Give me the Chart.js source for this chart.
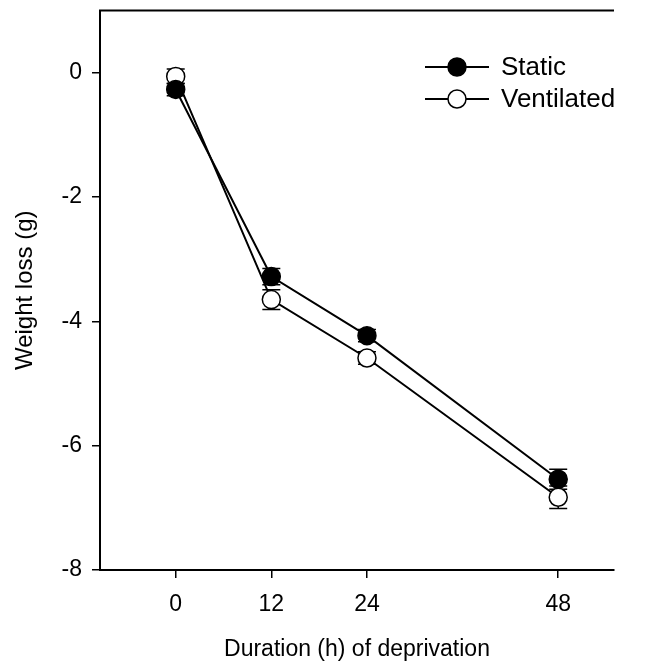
<!DOCTYPE html>
<html>
<head>
<meta charset="utf-8">
<script src="https://cdn.jsdelivr.net/npm/chart.js@4"></script>
<style>
  html, body { margin: 0; padding: 0; background: #fff; }
  #wrap { width: 652px; height: 663px; }
</style>
</head>
<body>
<div id="wrap"><canvas id="myChart" width="652" height="663"></canvas></div>
<script>
// hours of deprivation
var hours = [0, 12, 24, 48];
var xTicks = [0, 12, 24, 48];
var yTicks = [-8, -6, -4, -2, 0];

var staticMean = [-0.27, -3.28, -4.23, -6.54];
var staticErr = [0.10, 0.13, 0.10, 0.16];
var ventMean = [-0.06, -3.65, -4.59, -6.83];
var ventErr = [0.12, 0.16, 0.10, 0.18];

var seriesNames = ['Static', 'Ventilated'];
var FONT = 'Liberation Sans, Arial, sans-serif';

function pts(xs, ys) {
    return xs.map(function(x, i){ return {x: x, y: ys[i]}; });
}

// error bars + top frame line + legend
var extras = {
    id: 'extras',
    beforeDatasetsDraw: function(chart) {
        var ctx = chart.ctx;
        var xs = chart.scales.x, ys = chart.scales.y;
        var errs = [staticErr, ventErr];
        var means = [staticMean, ventMean];
        ctx.save();
        ctx.strokeStyle = '#000';
        ctx.lineWidth = 1.5;
        for (var d = 0; d < 2; d++) {
            for (var i = 0; i < hours.length; i++) {
                var px = xs.getPixelForValue(hours[i]);
                var top = ys.getPixelForValue(means[d][i] + errs[d][i]);
                var bot = ys.getPixelForValue(means[d][i] - errs[d][i]);
                ctx.beginPath();
                ctx.moveTo(px, top); ctx.lineTo(px, bot);
                ctx.moveTo(px - 9, top); ctx.lineTo(px + 9, top);
                ctx.moveTo(px - 9, bot); ctx.lineTo(px + 9, bot);
                ctx.stroke();
            }
        }
        ctx.restore();
    },
    afterDraw: function(chart) {
        var ctx = chart.ctx;
        var a = chart.chartArea;
        ctx.save();
        ctx.strokeStyle = '#000';
        ctx.lineWidth = 2;
        ctx.beginPath();
        ctx.moveTo(a.left - 1, a.top);
        ctx.lineTo(a.right, a.top);
        ctx.stroke();

        // legend
        var rows = [67, 99];
        var fills = ['#000', '#fff'];
        ctx.font = '26px ' + FONT;
        ctx.textBaseline = 'middle';
        ctx.fillStyle = '#000';
        for (var r = 0; r < 2; r++) {
            var y = rows[r];
            ctx.lineWidth = 2;
            ctx.beginPath();
            ctx.moveTo(425, y); ctx.lineTo(489, y);
            ctx.stroke();
            ctx.beginPath();
            ctx.arc(457, y, 9, 0, Math.PI * 2);
            ctx.fillStyle = fills[r];
            ctx.fill();
            ctx.lineWidth = 1.5;
            ctx.stroke();
            ctx.fillStyle = '#000';
            ctx.fillText(seriesNames[r], 501, y + 1);
        }
        ctx.restore();
    }
};

var dataObj = {
    type: 'line',
    data: {
        datasets: [{
            label: seriesNames[0],
            data: pts(hours, staticMean),
            borderColor: '#000',
            borderWidth: 2,
            pointRadius: 9,
            pointBackgroundColor: '#000',
            pointBorderColor: '#000',
            pointBorderWidth: 1.5
        }, {
            label: seriesNames[1],
            data: pts(hours, ventMean),
            borderColor: '#000',
            borderWidth: 2,
            pointRadius: 9,
            pointBackgroundColor: '#fff',
            pointBorderColor: '#000',
            pointBorderWidth: 1.5
        }]
    },
    options: {
        responsive: false,
        animation: false,
        layout: { padding: { top: 6, right: 38, left: 0, bottom: 0 } },
        plugins: { legend: { display: false }, tooltip: { enabled: false } },
        scales: {
            x: {
                type: 'linear',
                min: -9.5,
                max: 55,
                afterBuildTicks: function(s){ s.ticks = xTicks.map(function(v){ return {value: v}; }); },
                afterFit: function(s){ s.height = 93; s.paddingLeft = 0; s.paddingRight = 0; },
                grid: { drawOnChartArea: false, drawTicks: true, tickLength: 8, color: '#000', lineWidth: 1.5 },
                border: { display: true, color: '#000', width: 2 },
                ticks: { color: '#000', font: { family: FONT, size: 23 }, padding: 13, maxRotation: 0 },
                title: { display: true, text: 'Duration (h) of deprivation', color: '#000',
                         font: { family: FONT, size: 23 }, padding: { top: 4, bottom: 0 } }
            },
            y: {
                min: -8,
                max: 1,
                afterBuildTicks: function(s){ s.ticks = yTicks.map(function(v){ return {value: v}; }); },
                afterFit: function(s){ s.width = 100; s.paddingTop = 0; s.paddingBottom = 0; },
                grid: { drawOnChartArea: false, drawTicks: true, tickLength: 8, color: '#000', lineWidth: 1.5 },
                border: { display: true, color: '#000', width: 2 },
                ticks: { color: '#000', font: { family: FONT, size: 23 }, padding: 10 },
                title: { display: true, text: 'Weight loss (g)', color: '#000',
                         font: { family: FONT, size: 24 }, padding: { top: 11, bottom: 0 } }
            }
        }
    },
    plugins: [extras]
};

var ctx = document.getElementById('myChart').getContext('2d');
window.myLine = new Chart(ctx, dataObj);
</script>
</body>
</html>
